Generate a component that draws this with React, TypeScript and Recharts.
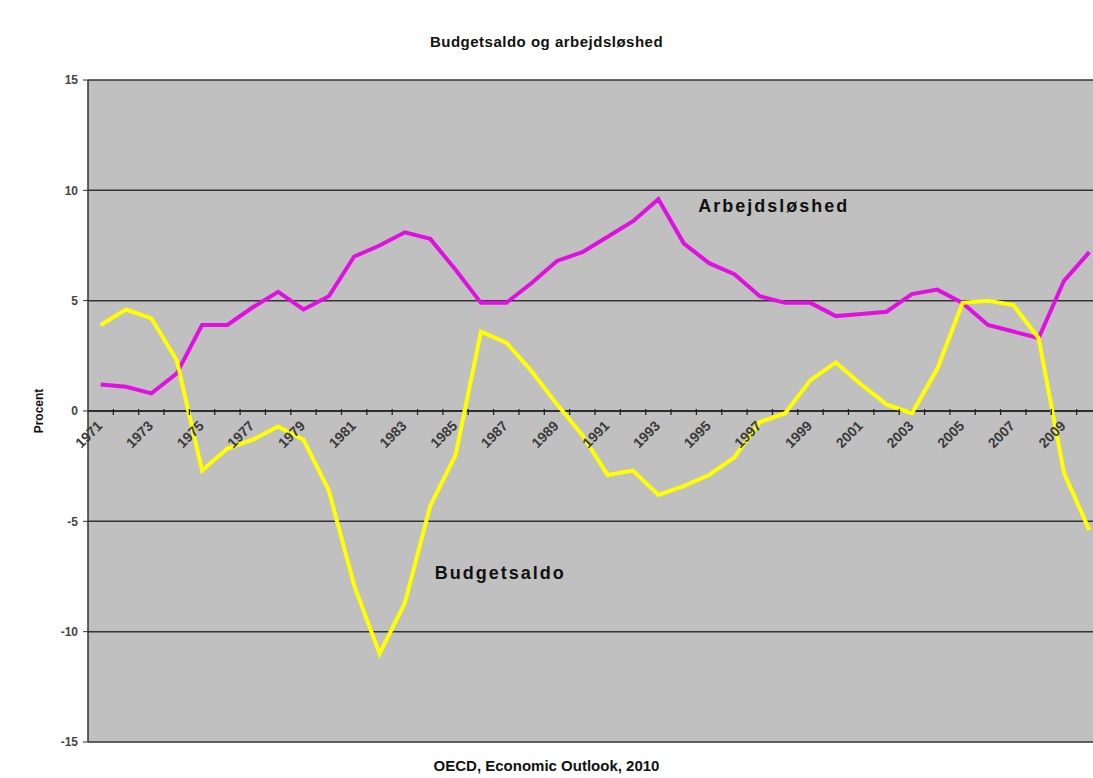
import React from 'react';
import { LineChart, Line, XAxis, YAxis, CartesianGrid, ReferenceLine, ReferenceDot } from 'recharts';

const years = [
  '1971', '1972', '1973', '1974', '1975', '1976', '1977', '1978', '1979', '1980',
  '1981', '1982', '1983', '1984', '1985', '1986', '1987', '1988', '1989', '1990',
  '1991', '1992', '1993', '1994', '1995', '1996', '1997', '1998', '1999', '2000',
  '2001', '2002', '2003', '2004', '2005', '2006', '2007', '2008', '2009', '2010',
];

const budgetsaldo = [
  3.9, 4.6, 4.2, 2.3, -2.7, -1.7, -1.3, -0.7, -1.3, -3.6,
  -7.9, -11.0, -8.7, -4.3, -2.0, 3.6, 3.1, 1.8, 0.3, -1.1,
  -2.9, -2.7, -3.8, -3.4, -2.9, -2.1, -0.5, -0.1, 1.4, 2.2,
  1.2, 0.3, -0.1, 1.9, 4.9, 5.0, 4.8, 3.3, -2.8, -5.4,
];

const arbejdsloshed = [
  1.2, 1.1, 0.8, 1.7, 3.9, 3.9, 4.7, 5.4, 4.6, 5.2,
  7.0, 7.5, 8.1, 7.8, 6.4, 4.9, 4.9, 5.8, 6.8, 7.2,
  7.9, 8.6, 9.6, 7.6, 6.7, 6.2, 5.2, 4.9, 4.9, 4.3,
  4.4, 4.5, 5.3, 5.5, 4.9, 3.9, 3.6, 3.3, 5.9, 7.2,
];

const yTicks = [-15, -10, -5, 0, 5, 10, 15];

const data = years.map((year, i) => ({
  year,
  budget: budgetsaldo[i],
  unemp: arbejdsloshed[i],
}));

const CHART_W = 1115;
const CHART_H = 778;
const MARGIN = { top: 80, right: 13, bottom: 6, left: 0 };
const YAXIS_W = 88;
const XAXIS_H = 30;
const Y_MIN = -15;
const Y_MAX = 15;
const PLOT_TOP = MARGIN.top;
const PLOT_BOTTOM = CHART_H - MARGIN.bottom - XAXIS_H;
const PLOT_W = CHART_W - MARGIN.left - MARGIN.right - YAXIS_W;
const BAND = PLOT_W / years.length;
const ZERO_Y = PLOT_TOP + ((PLOT_BOTTOM - PLOT_TOP) * (Y_MAX - 0)) / (Y_MAX - Y_MIN);

const FONT = '"Liberation Sans", Arial, sans-serif';

function YearTick(props: any) {
  const { x, payload, index } = props;
  const bx = x + BAND / 2;
  const lx = x;
  const ly = ZERO_Y + 13;
  return (
    <g>
      <line x1={bx} x2={bx} y1={ZERO_Y - 2} y2={ZERO_Y + 4} stroke="#222" strokeWidth={1.3} />
      {index % 2 === 0 && (
        <text
          x={lx}
          y={ly}
          transform={`rotate(-45 ${lx} ${ly})`}
          textAnchor="end"
          dominantBaseline="middle"
          fontFamily={FONT}
          fontWeight="bold"
          fontSize={14}
          fill="#3a3a3a"
        >
          {payload.value}
        </text>
      )}
    </g>
  );
}

function SeriesLabel(text: string, dx: number) {
  return (props: any) => {
    const vb = props.viewBox || {};
    const cx = (vb.x || 0) + (vb.width || 0) / 2;
    const cy = (vb.y || 0) + (vb.height || 0) / 2;
    return (
      <text
        x={cx + dx}
        y={cy}
        textAnchor="middle"
        dominantBaseline="middle"
        fontFamily={FONT}
        fontWeight="bold"
        fontSize={18}
        letterSpacing={2}
        fill="#111"
      >
        {text}
      </text>
    );
  };
}

export default function App() {
  return (
    <div
      style={{
        position: 'absolute',
        left: 0,
        top: 0,
        width: 1093,
        height: 778,
        overflow: 'hidden',
        background: '#fff',
      }}
    >
      <div
        style={{
          position: 'absolute',
          left: 0,
          top: 33,
          width: 1093,
          textAlign: 'center',
          fontFamily: FONT,
          fontWeight: 'bold',
          fontSize: 15,
          letterSpacing: 0.5,
          color: '#111',
          zIndex: 2,
        }}
      >
        Budgetsaldo og arbejdsløshed
      </div>
      <div
        style={{
          position: 'absolute',
          left: 0,
          top: 757,
          width: 1093,
          textAlign: 'center',
          fontFamily: FONT,
          fontWeight: 'bold',
          fontSize: 15,
          color: '#111',
          zIndex: 2,
        }}
      >
        OECD, Economic Outlook, 2010
      </div>
      <div
        style={{
          position: 'absolute',
          left: 0,
          top: 411 - 8,
          width: 80,
          textAlign: 'center',
          fontFamily: FONT,
          fontWeight: 'bold',
          fontSize: 12,
          color: '#111',
          transform: 'rotate(-90deg)',
          transformOrigin: '40px 8px',
          zIndex: 2,
        }}
      >
        Procent
      </div>
      <LineChart width={CHART_W} height={CHART_H} data={data} margin={MARGIN}>
        <CartesianGrid vertical={false} stroke="#333" strokeWidth={1.5} fill="#C0C0C0" fillOpacity={1} />
        <XAxis
          dataKey="year"
          scale="band"
          interval={0}
          axisLine={false}
          tickLine={false}
          height={XAXIS_H}
          tick={<YearTick />}
        />
        <YAxis
          domain={[Y_MIN, Y_MAX]}
          ticks={yTicks}
          width={YAXIS_W}
          allowDataOverflow
          axisLine={{ stroke: '#333', strokeWidth: 1.5 }}
          tickLine={{ stroke: '#333' }}
          tickSize={5}
          tickMargin={5}
          tick={{ fontFamily: FONT, fontSize: 12, fill: '#444', fontWeight: 'bold' }}
        />
        <ReferenceLine y={0} stroke="#222" strokeWidth={1.5} />
        <Line
          type="linear"
          dataKey="unemp"
          stroke="#E010E0"
          strokeWidth={4}
          dot={false}
          isAnimationActive={false}
        />
        <Line
          type="linear"
          dataKey="budget"
          stroke="#FFFF00"
          strokeWidth={4}
          dot={false}
          isAnimationActive={false}
        />
        <ReferenceDot
          x="1997"
          y={9.25}
          r={1}
          fill="none"
          stroke="none"
          label={{ content: SeriesLabel('Arbejdsløshed', 14) }}
        />
        <ReferenceDot
          x="1987"
          y={-7.4}
          r={1}
          fill="none"
          stroke="none"
          label={{ content: SeriesLabel('Budgetsaldo', -6) }}
        />
      </LineChart>
    </div>
  );
}
